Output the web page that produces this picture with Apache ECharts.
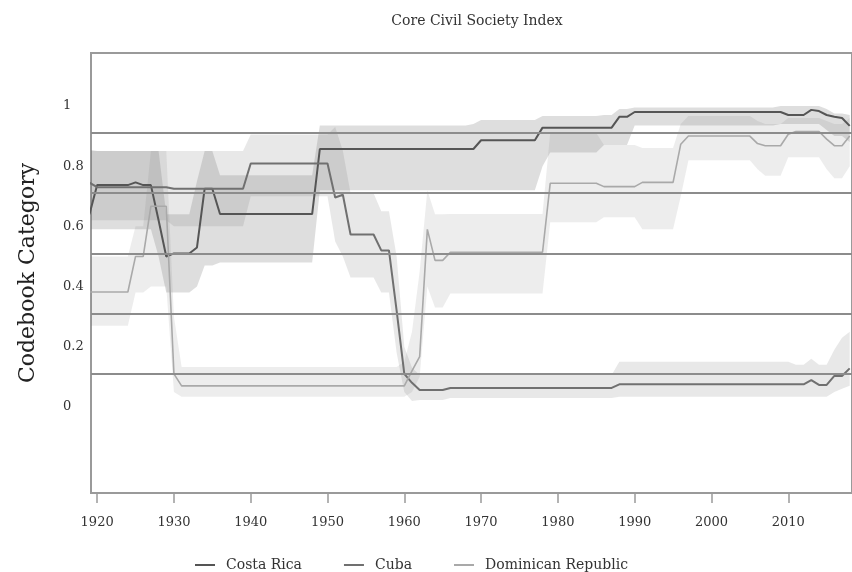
<!DOCTYPE html>
<html>
<head>
<meta charset="utf-8">
<script src="https://cdn.jsdelivr.net/npm/echarts@6/dist/echarts.min.js"></script>
<style>html,body{margin:0;padding:0;background:#fff}#chart{width:852px;height:572px}</style>
</head>
<body>
<div id="chart"></div>
<script>
const years = [
  1919,1920,1921,1922,1923,1924,1925,1926,1927,1928,
  1929,1930,1931,1932,1933,1934,1935,1936,1937,1938,
  1939,1940,1941,1942,1943,1944,1945,1946,1947,1948,
  1949,1950,1951,1952,1953,1954,1955,1956,1957,1958,
  1959,1960,1961,1962,1963,1964,1965,1966,1967,1968,
  1969,1970,1971,1972,1973,1974,1975,1976,1977,1978,
  1979,1980,1981,1982,1983,1984,1985,1986,1987,1988,
  1989,1990,1991,1992,1993,1994,1995,1996,1997,1998,
  1999,2000,2001,2002,2003,2004,2005,2006,2007,2008,
  2009,2010,2011,2012,2013,2014,2015,2016,2017,2018
];

const costaRica = [
  0.64,0.737,0.737,0.737,0.737,0.737,0.746,0.737,0.737,0.62,
  0.50,0.51,0.51,0.51,0.53,0.725,0.725,0.641,0.641,0.641,
  0.641,0.641,0.641,0.641,0.641,0.641,0.641,0.641,0.641,0.641,
  0.857,0.857,0.857,0.857,0.857,0.857,0.857,0.857,0.857,0.857,
  0.857,0.857,0.857,0.857,0.857,0.857,0.857,0.857,0.857,0.857,
  0.857,0.886,0.886,0.886,0.886,0.886,0.886,0.886,0.886,0.928,
  0.928,0.928,0.928,0.928,0.928,0.928,0.928,0.928,0.928,0.964,
  0.964,0.98,0.98,0.98,0.98,0.98,0.98,0.98,0.98,0.98,
  0.98,0.98,0.98,0.98,0.98,0.98,0.98,0.98,0.98,0.98,
  0.98,0.97,0.97,0.97,0.987,0.983,0.97,0.964,0.96,0.934
];
const costaRicaLow = [
  0.59,0.59,0.59,0.59,0.59,0.59,0.59,0.59,0.59,0.50,
  0.38,0.38,0.38,0.38,0.40,0.47,0.47,0.48,0.48,0.48,
  0.48,0.48,0.48,0.48,0.48,0.48,0.48,0.48,0.48,0.48,
  0.72,0.72,0.72,0.72,0.72,0.72,0.72,0.72,0.72,0.72,
  0.72,0.72,0.72,0.72,0.72,0.72,0.72,0.72,0.72,0.72,
  0.72,0.72,0.72,0.72,0.72,0.72,0.72,0.72,0.72,0.80,
  0.845,0.845,0.845,0.845,0.845,0.845,0.845,0.87,0.87,0.87,
  0.87,0.935,0.935,0.935,0.935,0.935,0.935,0.935,0.935,0.935,
  0.935,0.935,0.935,0.935,0.935,0.935,0.935,0.935,0.935,0.935,
  0.94,0.94,0.94,0.94,0.94,0.94,0.92,0.90,0.90,0.88
];
const costaRicaHigh = [
  0.855,0.85,0.85,0.85,0.85,0.85,0.85,0.85,0.85,0.85,
  0.64,0.64,0.64,0.64,0.75,0.85,0.85,0.77,0.77,0.77,
  0.77,0.77,0.77,0.77,0.77,0.77,0.77,0.77,0.77,0.77,
  0.935,0.935,0.935,0.935,0.935,0.935,0.935,0.935,0.935,0.935,
  0.935,0.935,0.935,0.935,0.935,0.935,0.935,0.935,0.935,0.935,
  0.94,0.953,0.953,0.953,0.953,0.953,0.953,0.953,0.953,0.967,
  0.967,0.967,0.967,0.967,0.967,0.967,0.967,0.97,0.97,0.99,
  0.99,0.995,0.995,0.995,0.995,0.995,0.995,0.995,0.995,0.995,
  0.995,0.995,0.995,0.995,0.995,0.995,0.995,0.995,0.995,0.995,
  1.0,1.0,1.0,1.0,1.0,1.0,0.99,0.975,0.975,0.97
];

const cuba = [
  0.745,0.73,0.73,0.73,0.73,0.73,0.73,0.73,0.73,0.73,
  0.73,0.725,0.725,0.725,0.725,0.725,0.725,0.725,0.725,0.725,
  0.725,0.809,0.809,0.809,0.809,0.809,0.809,0.809,0.809,0.809,
  0.809,0.809,0.696,0.705,0.573,0.573,0.573,0.573,0.52,0.52,
  0.32,0.11,0.08,0.056,0.056,0.056,0.056,0.063,0.063,0.063,
  0.063,0.063,0.063,0.063,0.063,0.063,0.063,0.063,0.063,0.063,
  0.063,0.063,0.063,0.063,0.063,0.063,0.063,0.063,0.063,0.075,
  0.075,0.075,0.075,0.075,0.075,0.075,0.075,0.075,0.075,0.075,
  0.075,0.075,0.075,0.075,0.075,0.075,0.075,0.075,0.075,0.075,
  0.075,0.075,0.075,0.075,0.089,0.073,0.073,0.103,0.103,0.128
];
const cubaLow = [
  0.62,0.62,0.62,0.62,0.62,0.62,0.62,0.62,0.62,0.62,
  0.62,0.60,0.60,0.60,0.60,0.60,0.60,0.60,0.60,0.60,
  0.60,0.70,0.70,0.70,0.70,0.70,0.70,0.70,0.70,0.70,
  0.70,0.70,0.55,0.50,0.43,0.43,0.43,0.43,0.38,0.38,
  0.18,0.05,0.02,0.023,0.023,0.023,0.023,0.03,0.03,0.03,
  0.03,0.03,0.03,0.03,0.03,0.03,0.03,0.03,0.03,0.03,
  0.03,0.03,0.03,0.03,0.03,0.03,0.03,0.03,0.03,0.034,
  0.034,0.034,0.034,0.034,0.034,0.034,0.034,0.034,0.034,0.034,
  0.034,0.034,0.034,0.034,0.034,0.034,0.034,0.034,0.034,0.034,
  0.034,0.034,0.034,0.034,0.034,0.034,0.034,0.05,0.06,0.07
];
const cubaHigh = [
  0.85,0.85,0.85,0.85,0.85,0.85,0.85,0.85,0.85,0.85,
  0.85,0.85,0.85,0.85,0.85,0.85,0.85,0.85,0.85,0.85,
  0.85,0.905,0.905,0.905,0.905,0.905,0.905,0.905,0.905,0.905,
  0.905,0.905,0.93,0.85,0.71,0.71,0.71,0.71,0.65,0.65,
  0.50,0.20,0.13,0.106,0.106,0.106,0.106,0.106,0.106,0.106,
  0.106,0.106,0.106,0.106,0.106,0.106,0.106,0.106,0.106,0.106,
  0.106,0.106,0.106,0.106,0.106,0.106,0.106,0.106,0.106,0.15,
  0.15,0.15,0.15,0.15,0.15,0.15,0.15,0.15,0.15,0.15,
  0.15,0.15,0.15,0.15,0.15,0.15,0.15,0.15,0.15,0.15,
  0.15,0.15,0.14,0.14,0.16,0.14,0.14,0.19,0.23,0.25
];

const dominicanRepublic = [
  0.382,0.382,0.382,0.382,0.382,0.382,0.50,0.50,0.667,0.667,
  0.667,0.11,0.07,0.07,0.07,0.07,0.07,0.07,0.07,0.07,
  0.07,0.07,0.07,0.07,0.07,0.07,0.07,0.07,0.07,0.07,
  0.07,0.07,0.07,0.07,0.07,0.07,0.07,0.07,0.07,0.07,
  0.07,0.07,0.12,0.167,0.59,0.487,0.487,0.514,0.514,0.514,
  0.514,0.514,0.514,0.514,0.514,0.514,0.514,0.514,0.514,0.514,
  0.743,0.743,0.743,0.743,0.743,0.743,0.743,0.732,0.732,0.732,
  0.732,0.732,0.746,0.746,0.746,0.746,0.746,0.873,0.90,0.90,
  0.90,0.90,0.90,0.90,0.90,0.90,0.90,0.875,0.868,0.868,
  0.868,0.906,0.915,0.915,0.915,0.915,0.89,0.868,0.868,0.90
];
const dominicanRepublicLow = [
  0.27,0.27,0.27,0.27,0.27,0.27,0.38,0.38,0.40,0.40,
  0.40,0.05,0.034,0.034,0.034,0.034,0.034,0.034,0.034,0.034,
  0.034,0.034,0.034,0.034,0.034,0.034,0.034,0.034,0.034,0.034,
  0.034,0.034,0.034,0.034,0.034,0.034,0.034,0.034,0.034,0.034,
  0.034,0.034,0.05,0.10,0.40,0.33,0.33,0.377,0.377,0.377,
  0.377,0.377,0.377,0.377,0.377,0.377,0.377,0.377,0.377,0.377,
  0.614,0.614,0.614,0.614,0.614,0.614,0.614,0.63,0.63,0.63,
  0.63,0.63,0.59,0.59,0.59,0.59,0.59,0.70,0.82,0.82,
  0.82,0.82,0.82,0.82,0.82,0.82,0.82,0.79,0.768,0.768,
  0.768,0.83,0.83,0.83,0.83,0.83,0.79,0.76,0.76,0.80
];
const dominicanRepublicHigh = [
  0.50,0.50,0.50,0.50,0.50,0.50,0.60,0.60,0.85,0.85,
  0.85,0.30,0.133,0.133,0.133,0.133,0.133,0.133,0.133,0.133,
  0.133,0.133,0.133,0.133,0.133,0.133,0.133,0.133,0.133,0.133,
  0.133,0.133,0.133,0.133,0.133,0.133,0.133,0.133,0.133,0.133,
  0.133,0.15,0.25,0.45,0.72,0.64,0.64,0.641,0.641,0.641,
  0.641,0.641,0.641,0.641,0.641,0.641,0.641,0.641,0.641,0.641,
  0.91,0.91,0.91,0.91,0.91,0.91,0.91,0.87,0.87,0.87,
  0.87,0.87,0.86,0.86,0.86,0.86,0.86,0.94,0.967,0.967,
  0.967,0.967,0.967,0.967,0.967,0.967,0.967,0.95,0.94,0.94,
  0.94,0.96,0.96,0.96,0.96,0.96,0.95,0.94,0.94,0.96
];

const tickYears = [1920,1930,1940,1950,1960,1970,1980,1990,2000,2010];
const yTicks = [0,0.2,0.4,0.6,0.8,1];
const categoryLines = [0.113,0.312,0.512,0.712,0.912];

const FONT = 'DejaVu Serif';

const countries = [
  {name:'Costa Rica', vals:costaRica, low:costaRicaLow, high:costaRicaHigh, color:'#555555', width:2, band:'rgba(115,115,115,0.24)'},
  {name:'Cuba', vals:cuba, low:cubaLow, high:cubaHigh, color:'#707070', width:2, band:'rgba(115,115,115,0.16)'},
  {name:'Dominican Republic', vals:dominicanRepublic, low:dominicanRepublicLow, high:dominicanRepublicHigh, color:'#a9a9a9', width:1.6, band:'rgba(115,115,115,0.13)'}
];

const series = [];
countries.forEach((c) => {
  series.push({
    name: c.name + ' band', type:'custom', z:1, silent:true, clip:true,
    encode:{x:0, y:[1,2]},
    data: years.map((y,i)=>[y, c.low[i], c.high[i]]),
    renderItem: (params, api) => {
      if (params.dataIndex !== 0) return null;
      const upper = years.map((y,i)=>api.coord([y, c.high[i]]));
      const lower = years.map((y,i)=>api.coord([y, c.low[i]])).reverse();
      return {type:'polygon', shape:{points: upper.concat(lower)}, style:{fill:c.band}};
    }
  });
});
series.push({
  name:'categories', type:'line', data:[], z:2, silent:true,
  markLine:{
    silent:true, symbol:['none','none'], label:{show:false},
    lineStyle:{color:'#8c8c8c', width:2, type:'solid'},
    data: categoryLines.map(v=>({yAxis:v}))
  }
});
countries.forEach(c => {
  series.push({
    name:c.name, type:'line', symbol:'none', z:3,
    itemStyle:{color:c.color},
    lineStyle:{color:c.color, width:c.width},
    data: years.map((y,i)=>[y, c.vals[i]])
  });
});

const chart = echarts.init(document.getElementById('chart'), null, {renderer:'canvas'});
chart.setOption({
  animation:false,
  backgroundColor:'#ffffff',
  title:{
    text:'Core Civil Society Index', left:472, top:9, textAlign:'center',
    textStyle:{fontFamily:FONT, fontSize:14, fontWeight:'normal', color:'#333'}
  },
  legend:{
    data:countries.map(c=>c.name), left:190, top:553,
    icon:'rect', itemWidth:20, itemHeight:2, itemGap:42,
    textStyle:{fontFamily:FONT, fontSize:14, color:'#333', padding:[0,0,0,6]}
  },
  grid:{left:91, right:-2, top:53, bottom:79, show:true, borderColor:'#9a9a9a', borderWidth:2},
  xAxis:{
    type:'value', min:1919.2, max:2018.3,
    axisLine:{show:false, onZero:false},
    splitLine:{show:false},
    axisTick:{show:true, customValues:tickYears, length:10, lineStyle:{color:'#9a9a9a', width:1.5}},
    axisLabel:{customValues:tickYears, formatter:(v)=>String(v), fontFamily:FONT, fontSize:13, color:'#333', margin:23}
  },
  yAxis:{
    type:'value', min:-0.286, max:1.176,
    axisLine:{show:false}, axisTick:{show:false}, splitLine:{show:false},
    axisLabel:{customValues:yTicks, align:'left', margin:28, fontFamily:FONT, fontSize:13, color:'#333'},
    name:'Codebook Category', nameLocation:'middle', nameGap:52,
    nameTextStyle:{fontFamily:FONT, fontSize:22, color:'#222'}
  },
  series: series
});
</script>
</body>
</html>
